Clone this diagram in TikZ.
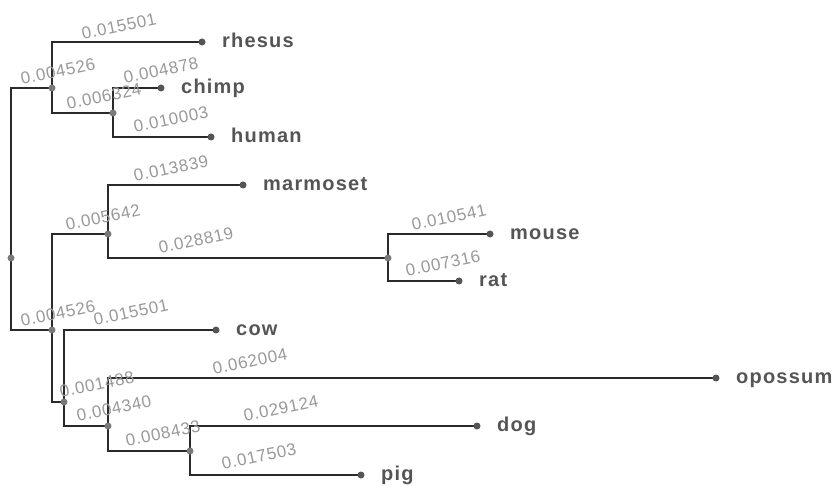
\documentclass[tikz,border=0pt]{standalone}
\usepackage{fontspec}
\newfontfamily\leaffont{Liberation Sans}[LetterSpace=6]
\newfontfamily\lenfont{Liberation Sans}[LetterSpace=4]
\pgfdeclarelayer{bg}
\pgfsetlayers{bg,main}
\definecolor{branch}{HTML}{2A2A2A}
\definecolor{leafdot}{HTML}{555555}
\definecolor{innerdot}{HTML}{7A7A7A}
\definecolor{leaftext}{HTML}{555555}
\definecolor{lentext}{HTML}{999999}
\tikzset{
  x=1pt, y=-1pt,
  leaf/.style={circle, fill=leafdot, inner sep=0pt, minimum size=7pt},
  inner/.style={circle, fill=innerdot, inner sep=0pt, minimum size=7pt},
  edge/.style={draw=branch, line width=1.1pt},
  taxon/.style={anchor=base west, inner sep=0pt, text=leaftext,
    font=\leaffont\bfseries\fontsize{20}{24}\selectfont},
  blen/.style={anchor=base west, inner sep=0pt, rotate=12, text=lentext,
    font=\lenfont\fontsize{17}{20}\selectfont},
}
\begin{document}
\begin{tikzpicture}
\useasboundingbox (0,0) rectangle (835,486);

% internal nodes
\node[inner] (root) at (11,258) {};
\node[inner] (P) at (52,88) {};
\node[inner] (Q) at (113,113) {};
\node[inner] (R) at (52,330) {};
\node[inner] (S) at (108,234) {};
\node[inner] (T) at (388,258) {};
\node[inner] (U) at (64,402) {};
\node[inner] (V) at (108,426) {};
\node[inner] (W) at (190,451) {};

% leaves
\node[leaf] (rhesus) at (202,42) {};
\node[leaf] (chimp) at (161,88) {};
\node[leaf] (human) at (211,137) {};
\node[leaf] (marmoset) at (243,185) {};
\node[leaf] (mouse) at (490,234) {};
\node[leaf] (rat) at (459,281) {};
\node[leaf] (cow) at (216,330) {};
\node[leaf] (opossum) at (716,378) {};
\node[leaf] (dog) at (477,426) {};
\node[leaf] (pig) at (361,475) {};

% branches
\begin{pgfonlayer}{bg}
\foreach \a/\b in {root/P, root/R, P/rhesus, P/Q, Q/chimp, Q/human,
    R/S, R/U, S/marmoset, S/T, T/mouse, T/rat,
    U/cow, U/V, V/opossum, V/W, W/dog, W/pig}
  \draw[edge] (\a.center) |- (\b.center);
\end{pgfonlayer}

% taxon names
\foreach \n in {rhesus, chimp, human, marmoset, mouse, rat, cow, opossum, dog, pig}
  \node[taxon] (\n-name) at ([xshift=20pt, yshift=-5.2pt]\n.center) {\n};

% branch lengths
\node[blen] (l-rhesus) at (83,40) {0.015501};
\node[blen] (l-P) at (22,85) {0.004526};
\node[blen] (l-chimp) at (125,84) {0.004878};
\node[blen] (l-Q) at (68,110) {0.006324};
\node[blen] (l-human) at (135,133) {0.010003};
\node[blen] (l-marmoset) at (135,182) {0.013839};
\node[blen] (l-S) at (67,231) {0.005642};
\node[blen] (l-T) at (160,254) {0.028819};
\node[blen] (l-mouse) at (413,231) {0.010541};
\node[blen] (l-rat) at (407,277) {0.007316};
\node[blen] (l-R) at (22,327) {0.004526};
\node[blen] (l-cow) at (95,326) {0.015501};
\node[blen] (l-opossum) at (214,375) {0.062004};
\node[blen] (l-U) at (61,398) {0.001488};
\node[blen] (l-V) at (78,422) {0.004340};
\node[blen] (l-W) at (127,447) {0.008433};
\node[blen] (l-dog) at (245,422) {0.029124};
\node[blen] (l-pig) at (223,470) {0.017503};
\end{tikzpicture}
\end{document}
